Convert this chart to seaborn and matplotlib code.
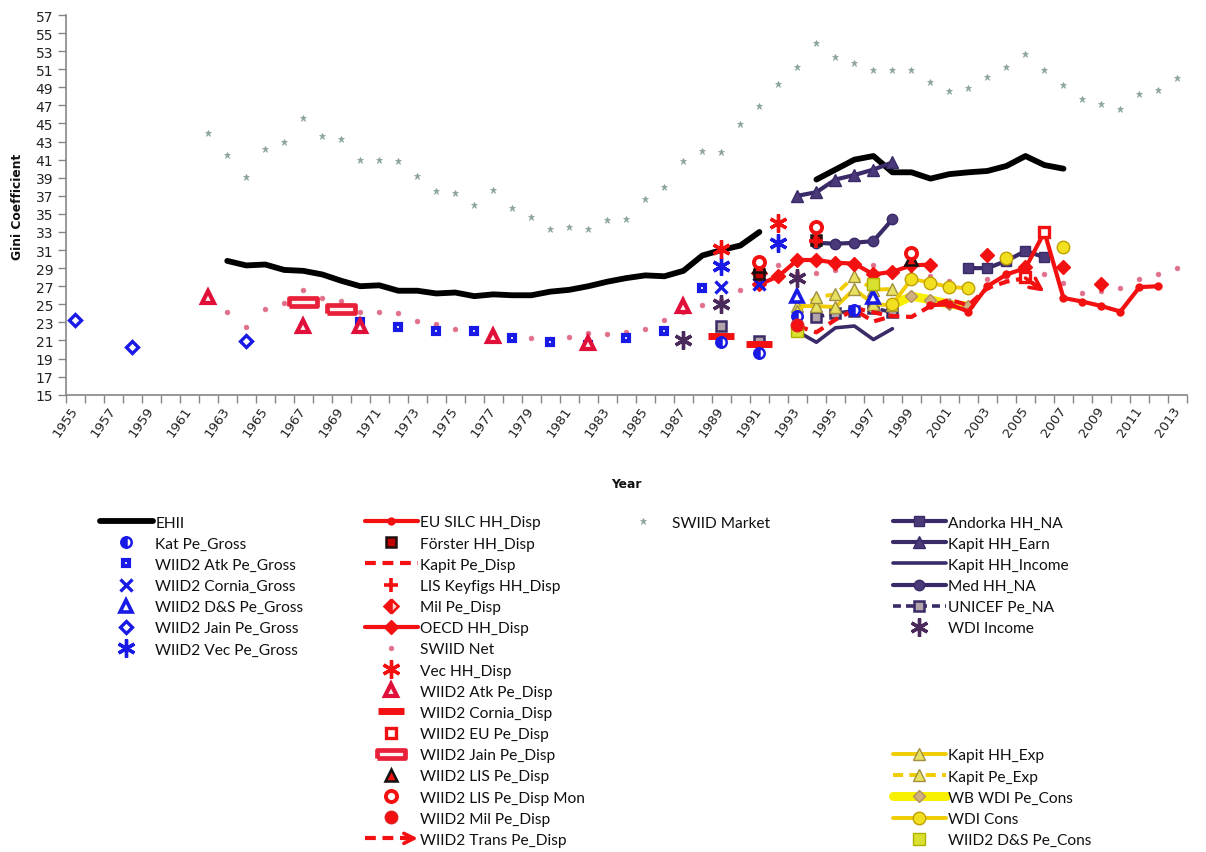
import numpy as np
import pandas as pd
import matplotlib
matplotlib.use("Agg")
import matplotlib.pyplot as plt
import seaborn as sns
from matplotlib.lines import Line2D
from matplotlib.patches import FancyArrowPatch
from matplotlib.legend_handler import HandlerBase

# ---------------- data ----------------
EHII_YEARS = list(range(1963, 1992)) + list(range(1994, 2008))
EHII_VALUES = [29.8, 29.3, 29.4, 28.8, 28.7, 28.3, 27.6, 27.0, 27.1, 26.5, 26.5, 26.2, 26.3, 25.9,
               26.1, 26.0, 26.0, 26.4, 26.6, 27.0, 27.5, 27.9, 28.2, 28.1, 28.7, 30.4, 31.0, 31.5, 33.0,
               38.8, 39.9, 41.0, 41.4, 39.6, 39.6, 38.9, 39.4, 39.6, 39.75, 40.3, 41.4, 40.4, 40.0]

KAT_PE_GROSS_YEARS = [1989, 1991, 1993, 1996]
KAT_PE_GROSS_VALUES = [20.8, 19.6, 23.7, 24.4]
WIID2_ATK_PE_GROSS_YEARS = [1970, 1972, 1974, 1976, 1978, 1980, 1982, 1984, 1986, 1988]
WIID2_ATK_PE_GROSS_VALUES = [23.0, 22.5, 22.1, 22.0, 21.3, 20.8, 20.5, 21.3, 22.1, 26.8]
WIID2_CORNIA_GROSS_YEARS = [1989, 1991]
WIID2_CORNIA_GROSS_VALUES = [26.9, 27.2]
WIID2_DS_PE_GROSS_YEARS = [1993, 1997]
WIID2_DS_PE_GROSS_VALUES = [25.9, 25.8]
WIID2_JAIN_PE_GROSS_YEARS = [1955, 1958, 1964]
WIID2_JAIN_PE_GROSS_VALUES = [23.3, 20.3, 20.9]
WIID2_VEC_PE_GROSS_YEARS = [1989, 1992]
WIID2_VEC_PE_GROSS_VALUES = [29.2, 31.8]

EU_SILC_YEARS = list(range(2000, 2013))
EU_SILC_VALUES = [24.9, 25.0, 24.2, 27.0, 28.3, 29.0, 33.0, 25.7, 25.3, 24.8, 24.2, 26.9, 27.0]
FORSTER_YEARS = [1991, 1994]
FORSTER_VALUES = [28.3, 32.1]
KAPIT_PE_DISP_YEARS = [1993, 1994, 1995, 1996, 1997, 1998]
KAPIT_PE_DISP_VALUES = [22.6, 21.9, 23.3, 24.4, 23.1, 23.7]
LIS_KEYFIGS_YEARS = [1994]
LIS_KEYFIGS_VALUES = [32.0]
MIL_PE_DISP_YEARS = [1991]
MIL_PE_DISP_VALUES = [28.5]
OECD_YEARS = [1991, 1992, 1993, 1994, 1995, 1996, 1997, 1998, 1999, 2000, 2003, 2005, 2007, 2009]
OECD_VALUES = [27.2, 28.1, 29.9, 29.9, 29.6, 29.5, 28.3, 28.6, 29.3, 29.4, 30.4, 29.1, 29.1, 27.2]
SWIID_NET_YEARS = list(range(1963, 2014))
SWIID_NET_VALUES = [24.2, 22.5, 24.5, 25.1, 26.6, 25.7, 25.4, 24.2, 24.2, 24.0, 23.1, 22.8, 22.3, 22.0,
                    21.9, 21.6, 21.3, 21.2, 21.4, 21.8, 21.7, 21.9, 22.3, 23.3, 24.2, 24.9, 25.5, 26.6,
                    27.5, 29.4, 28.5, 28.5, 28.8, 29.0, 29.4, 28.8, 28.4, 28.1, 27.6, 27.2, 27.8, 28.0,
                    28.5, 28.3, 27.4, 26.2, 26.5, 26.8, 27.8, 28.4, 29.0]
VEC_HH_DISP_YEARS = [1989, 1992]
VEC_HH_DISP_VALUES = [31.1, 34.0]
WIID2_ATK_PE_DISP_YEARS = [1962, 1967, 1970, 1977, 1982, 1987]
WIID2_ATK_PE_DISP_VALUES = [25.8, 22.6, 22.6, 21.5, 20.7, 24.8]
WIID2_CORNIA_DISP_YEARS = [1989, 1991]
WIID2_CORNIA_DISP_VALUES = [21.5, 20.6]
WIID2_EU_PE_DISP_YEARS = [2005, 2006]
WIID2_EU_PE_DISP_VALUES = [28.0, 33.0]
WIID2_JAIN_PE_DISP_YEARS = [1967, 1969]
WIID2_JAIN_PE_DISP_VALUES = [25.2, 24.5]
WIID2_LIS_PE_DISP_YEARS = [1991, 1999]
WIID2_LIS_PE_DISP_VALUES = [29.2, 30.0]
WIID2_LIS_MON_YEARS = [1991, 1994, 1999]
WIID2_LIS_MON_VALUES = [29.7, 33.5, 30.7]
WIID2_MIL_PE_DISP_YEARS = [1993]
WIID2_MIL_PE_DISP_VALUES = [22.7]
WIID2_TRANS_YEARS = list(range(1996, 2007))
WIID2_TRANS_VALUES = [24.6, 24.1, 23.7, 23.6, 24.8, 25.5, 24.9, 26.8, 27.5, 27.9, 26.4]

SWIID_MARKET_YEARS = list(range(1962, 2014))
SWIID_MARKET_VALUES = [43.9, 41.5, 39.1, 42.2, 43.0, 45.6, 43.6, 43.3, 41.0, 41.0, 40.9, 39.2, 37.5,
                       37.3, 36.0, 37.6, 35.6, 34.7, 33.3, 33.6, 33.3, 34.3, 34.4, 36.7, 38.0, 40.9,
                       42.0, 41.8, 44.9, 46.9, 49.4, 51.2, 53.9, 52.3, 51.7, 50.9, 50.9, 50.9, 49.6,
                       48.6, 48.9, 50.1, 51.2, 52.7, 50.9, 49.3, 47.7, 47.2, 46.6, 48.3, 48.7, 50.0]

ANDORKA_YEARS = [2002, 2003, 2004, 2005, 2006]
ANDORKA_VALUES = [29.0, 29.0, 29.8, 30.9, 30.2]
KAPIT_HH_EARN_YEARS = [1993, 1994, 1995, 1996, 1997, 1998]
KAPIT_HH_EARN_VALUES = [37.0, 37.4, 38.8, 39.3, 39.9, 40.7]
KAPIT_HH_INCOME_YEARS = [1993, 1994, 1995, 1996, 1997, 1998]
KAPIT_HH_INCOME_VALUES = [22.0, 20.8, 22.4, 22.6, 21.1, 22.3]
MED_HH_NA_YEARS = [1994, 1995, 1996, 1997, 1998]
MED_HH_NA_VALUES = [31.8, 31.7, 31.8, 32.0, 34.4]
UNICEF_YEARS = [1989, 1991, 1994, 1995, 1996, 1997, 1998]
UNICEF_VALUES = [22.6, 20.9, 23.6, 24.0, 24.3, 24.6, 24.1]
WDI_INCOME_YEARS = [1987, 1989, 1993]
WDI_INCOME_VALUES = [21.0, 25.0, 27.9]

KAPIT_HH_EXP_YEARS = [1993, 1994, 1995, 1996, 1997, 1998]
KAPIT_HH_EXP_VALUES = [24.8, 24.8, 24.7, 26.7, 25.0, 24.9]
KAPIT_PE_EXP_YEARS = [1993, 1994, 1995, 1996, 1997, 1998]
KAPIT_PE_EXP_VALUES = [24.3, 25.8, 26.1, 28.1, 26.6, 26.7]
WB_WDI_PE_CONS_YEARS = [1998, 1999, 2000, 2001, 2002]
WB_WDI_PE_CONS_VALUES = [24.9, 25.9, 25.5, 25.0, 24.8]
WDI_CONS_YEARS = [1998, 1999, 2000, 2001, 2002, 2004, 2007]
WDI_CONS_VALUES = [25.0, 27.8, 27.4, 26.9, 26.8, 30.1, 31.3]
WIID2_DS_PE_CONS_YEARS = [1993, 1997]
WIID2_DS_PE_CONS_VALUES = [22.1, 27.2]

YEAR_MIN, YEAR_MAX = 1955, 2013
Y_TICKS = list(range(15, 58, 2))

# ---------------- styles ----------------
BLUE = "#1a1ae6"
RED = "#f21010"
PURPLE = "#3a2a68"
GOLD = "#f0cc00"
GREY = "#868686"

def st(color="k", lw=0, ls="none", marker="None", ms=8, mfc=None, mec=None, mew=1.5,
       fill="full", alt="none"):
    return dict(color=color, linewidth=lw, linestyle=ls, marker=marker, markersize=ms,
                markerfacecolor=mfc if mfc is not None else color,
                markeredgecolor=mec if mec is not None else color,
                markeredgewidth=mew, fillstyle=fill, markerfacecoloralt=alt)

DASH_MARK = [(-1, -0.26), (1, -0.26), (1, 0.26), (-1, 0.26), (-1, -0.26)]

SERIES = {
    "EHII": (EHII_YEARS, EHII_VALUES, st("black", lw=4.2, ls="-")),
    "Kat Pe_Gross": (KAT_PE_GROSS_YEARS, KAT_PE_GROSS_VALUES,
                     st(BLUE, marker="o", ms=7.5, mfc=BLUE, mew=1.8, fill="left", alt="white")),
    "WIID2 Atk Pe_Gross": (WIID2_ATK_PE_GROSS_YEARS, WIID2_ATK_PE_GROSS_VALUES,
                           st(BLUE, marker="s", ms=4.6, mfc="white", mew=3.0)),
    "WIID2 Cornia_Gross": (WIID2_CORNIA_GROSS_YEARS, WIID2_CORNIA_GROSS_VALUES,
                           st(BLUE, marker="x", ms=9, mew=2.4)),
    "WIID2 D&S Pe_Gross": (WIID2_DS_PE_GROSS_YEARS, WIID2_DS_PE_GROSS_VALUES,
                           st(BLUE, marker="^", ms=8, mfc="white", mew=2.6)),
    "WIID2 Jain Pe_Gross": (WIID2_JAIN_PE_GROSS_YEARS, WIID2_JAIN_PE_GROSS_VALUES,
                            st(BLUE, marker="D", ms=6.5, mfc="white", mew=2.4)),
    "WIID2 Vec Pe_Gross": (WIID2_VEC_PE_GROSS_YEARS, WIID2_VEC_PE_GROSS_VALUES,
                           st(BLUE, marker=(6, 2, 0), ms=13, mew=2.4)),
    "EU SILC HH_Disp": (EU_SILC_YEARS, EU_SILC_VALUES,
                        st(RED, lw=3, ls="-", marker="o", ms=4.5)),
    "Förster HH_Disp": (FORSTER_YEARS, FORSTER_VALUES,
                        st("#c00000", marker="s", ms=7, mec="#201010", mew=1.8)),
    "Kapit Pe_Disp": (KAPIT_PE_DISP_YEARS, KAPIT_PE_DISP_VALUES,
                      st(RED, lw=3, ls=(0, (2.6, 1.6)))),
    "LIS Keyfigs HH_Disp": (LIS_KEYFIGS_YEARS, LIS_KEYFIGS_VALUES,
                            st(RED, marker="+", ms=10, mew=2.6)),
    "Mil Pe_Disp": (MIL_PE_DISP_YEARS, MIL_PE_DISP_VALUES,
                    st(RED, marker="D", ms=7, mfc=RED, mew=1.8, fill="left", alt="#ffd0d0")),
    "OECD HH_Disp": (OECD_YEARS, OECD_VALUES,
                     st(RED, lw=3, ls="-", marker="D", ms=7.5, mew=1)),
    "SWIID Net": (SWIID_NET_YEARS, SWIID_NET_VALUES,
                  st("#e0708a", marker="o", ms=3.4, mew=0.5)),
    "Vec HH_Disp": (VEC_HH_DISP_YEARS, VEC_HH_DISP_VALUES,
                    st(RED, marker=(6, 2, 0), ms=13, mew=2.4)),
    "WIID2 Atk Pe_Disp": (WIID2_ATK_PE_DISP_YEARS, WIID2_ATK_PE_DISP_VALUES,
                          st("#e0103a", marker="^", ms=8, mfc="#fff0f0", mew=3.0)),
    "WIID2 Cornia_Disp": (WIID2_CORNIA_DISP_YEARS, WIID2_CORNIA_DISP_VALUES,
                          st(RED, marker="_", ms=19, mew=5)),
    "WIID2 EU Pe_Disp": (WIID2_EU_PE_DISP_YEARS, WIID2_EU_PE_DISP_VALUES,
                         st(RED, marker="s", ms=7, mfc="white", mew=2.4)),
    "WIID2 Jain Pe_Disp": (WIID2_JAIN_PE_DISP_YEARS, WIID2_JAIN_PE_DISP_VALUES,
                           st("#e8203a", marker=DASH_MARK, ms=20, mfc="#fff4f4", mew=3.4)),
    "WIID2 LIS Pe_Disp": (WIID2_LIS_PE_DISP_YEARS, WIID2_LIS_PE_DISP_VALUES,
                          st(RED, marker="^", ms=8.5, mec="#101010", mew=1.8)),
    "WIID2 LIS Pe_Disp Mon": (WIID2_LIS_MON_YEARS, WIID2_LIS_MON_VALUES,
                              st(RED, marker="o", ms=8, mfc="white", mew=2.8)),
    "WIID2 Mil Pe_Disp": (WIID2_MIL_PE_DISP_YEARS, WIID2_MIL_PE_DISP_VALUES,
                          st(RED, marker="o", ms=9, mec="#e02020", mew=1)),
    "WIID2 Trans Pe_Disp": (WIID2_TRANS_YEARS, WIID2_TRANS_VALUES,
                            st(RED, lw=3, ls=(0, (2.6, 1.6)))),
    "SWIID Market": (SWIID_MARKET_YEARS, SWIID_MARKET_VALUES,
                     st("#8aa398", marker="*", ms=4.8, mew=0.5)),
    "Andorka HH_NA": (ANDORKA_YEARS, ANDORKA_VALUES,
                      st(PURPLE, lw=3, ls="-", marker="s", ms=7.5, mfc="#4a3a7a", mew=1)),
    "Kapit HH_Earn": (KAPIT_HH_EARN_YEARS, KAPIT_HH_EARN_VALUES,
                      st(PURPLE, lw=3, ls="-", marker="^", ms=8.5, mfc="#4a3a7a", mew=1)),
    "Kapit HH_Income": (KAPIT_HH_INCOME_YEARS, KAPIT_HH_INCOME_VALUES,
                        st(PURPLE, lw=2.6, ls="-")),
    "Med HH_NA": (MED_HH_NA_YEARS, MED_HH_NA_VALUES,
                  st(PURPLE, lw=3, ls="-", marker="o", ms=7.5, mfc="#4a3a7a", mew=1)),
    "UNICEF Pe_NA": (UNICEF_YEARS, UNICEF_VALUES,
                     st(PURPLE, lw=2.6, ls=(0, (2.2, 1.4)), marker="s", ms=7, mfc="#b0a4a8",
                        mew=1.8)),
    "WDI Income": (WDI_INCOME_YEARS, WDI_INCOME_VALUES,
                   st("#4a2a5a", marker=(6, 2, 0), ms=13, mew=2.4)),
    "Kapit HH_Exp": (KAPIT_HH_EXP_YEARS, KAPIT_HH_EXP_VALUES,
                     st(GOLD, lw=2.8, ls="-", marker="^", ms=8, mfc="#e8e060", mec="#a09040", mew=1)),
    "Kapit Pe_Exp": (KAPIT_PE_EXP_YEARS, KAPIT_PE_EXP_VALUES,
                     st(GOLD, lw=2.8, ls=(0, (2.6, 1.6)), marker="^", ms=8, mfc="#e8e060",
                        mec="#a09040", mew=1)),
    "WB WDI Pe_Cons": (WB_WDI_PE_CONS_YEARS, WB_WDI_PE_CONS_VALUES,
                       st("#f8f000", lw=6.5, ls="-", marker="D", ms=6.5, mfc="#d0b080",
                          mec="#b09060", mew=1)),
    "WDI Cons": (WDI_CONS_YEARS, WDI_CONS_VALUES,
                 st(GOLD, lw=2.8, ls="-", marker="o", ms=9, mfc="#f2e020", mec="#c0a000", mew=1)),
    "WIID2 D&S Pe_Cons": (WIID2_DS_PE_CONS_YEARS, WIID2_DS_PE_CONS_VALUES,
                          st("#d8e030", marker="s", ms=8.5, mec="#b0b000", mew=1)),
}

DRAW_ORDER = ["SWIID Market", "SWIID Net", "EHII",
              "Kapit HH_Income", "Kapit HH_Earn", "Med HH_NA", "Andorka HH_NA", "UNICEF Pe_NA",
              "WB WDI Pe_Cons", "Kapit HH_Exp", "Kapit Pe_Exp", "WDI Cons",
              "EU SILC HH_Disp", "OECD HH_Disp", "Kapit Pe_Disp", "WIID2 Trans Pe_Disp",
              "WIID2 Jain Pe_Gross", "WIID2 Atk Pe_Gross", "WIID2 Jain Pe_Disp",
              "WIID2 Cornia_Disp", "Kat Pe_Gross", "WIID2 Cornia_Gross", "WIID2 D&S Pe_Gross",
              "WIID2 Vec Pe_Gross", "Vec HH_Disp", "WIID2 Atk Pe_Disp", "WDI Income",
              "WIID2 D&S Pe_Cons", "WIID2 Mil Pe_Disp", "Mil Pe_Disp", "Förster HH_Disp",
              "WIID2 LIS Pe_Disp", "WIID2 LIS Pe_Disp Mon", "LIS Keyfigs HH_Disp",
              "WIID2 EU Pe_Disp"]

LEGEND_COLS = [
    ["EHII", "Kat Pe_Gross", "WIID2 Atk Pe_Gross", "WIID2 Cornia_Gross", "WIID2 D&S Pe_Gross",
     "WIID2 Jain Pe_Gross", "WIID2 Vec Pe_Gross"],
    ["EU SILC HH_Disp", "Förster HH_Disp", "Kapit Pe_Disp", "LIS Keyfigs HH_Disp", "Mil Pe_Disp",
     "OECD HH_Disp", "SWIID Net", "Vec HH_Disp", "WIID2 Atk Pe_Disp", "WIID2 Cornia_Disp",
     "WIID2 EU Pe_Disp", "WIID2 Jain Pe_Disp", "WIID2 LIS Pe_Disp", "WIID2 LIS Pe_Disp Mon",
     "WIID2 Mil Pe_Disp", "WIID2 Trans Pe_Disp"],
    ["SWIID Market"],
    ["Andorka HH_NA", "Kapit HH_Earn", "Kapit HH_Income", "Med HH_NA", "UNICEF Pe_NA", "WDI Income"],
    ["Kapit HH_Exp", "Kapit Pe_Exp", "WB WDI Pe_Cons", "WDI Cons", "WIID2 D&S Pe_Cons"],
]
# (left x px, top y px) of each legend block
LEGEND_POS = [(100, 516.5), (365, 516.5), (617, 516.5), (893, 516.5), (893, 749.5)]

# ---------------- figure ----------------
sns.set_theme(style="white")
plt.rcParams["font.family"] = ["DejaVu Sans"]

W, H = 1206, 853
fig = plt.figure(figsize=(W / 100, H / 100), dpi=100)
ax_left, ax_right, ax_top, ax_bottom = 65.7, 1187.0, 16.0, 395.7
ax = fig.add_axes([ax_left / W, 1 - ax_bottom / H, (ax_right - ax_left) / W, (ax_bottom - ax_top) / H])


def runs(years, values):
    segs, cur = [], []
    for y, v in zip(years, values):
        if cur and y != cur[-1][0] + 1:
            segs.append(cur)
            cur = []
        cur.append((y, v))
    if cur:
        segs.append(cur)
    return segs


for name in DRAW_ORDER:
    years, values, style = SERIES[name]
    if style["linestyle"] == "none":
        chunks = [list(zip(years, values))]
    else:
        chunks = runs(years, values)
    for chunk in chunks:
        df = pd.DataFrame(chunk, columns=["year", "gini"])
        sns.lineplot(data=df, x="year", y="gini", ax=ax, legend=False, estimator=None,
                     sort=False, **style)
    if name == "WIID2 Trans Pe_Disp":
        ax.annotate("", xy=(years[-1], values[-1]), xytext=(years[-2], values[-2]),
                    arrowprops=dict(arrowstyle="->", color=RED, lw=2.6, mutation_scale=20,
                                    shrinkA=0, shrinkB=0))

ax.set_xlim(YEAR_MIN - 0.5, YEAR_MAX + 0.5)
ax.set_ylim(Y_TICKS[0], Y_TICKS[-1])
ax.set_yticks(Y_TICKS)
ax.set_xticks(np.arange(YEAR_MIN - 0.5, YEAR_MAX + 1.0, 1.0), minor=True)
label_years = list(range(YEAR_MIN, YEAR_MAX + 1, 2))
ax.set_xticks(label_years)
ax.set_xticklabels([str(y) for y in label_years], rotation=55, ha="right", va="center",
                   rotation_mode="anchor", fontsize=9.5, color="#222222")
ax.tick_params(axis="x", which="major", length=0, pad=9)
ax.tick_params(axis="x", which="minor", length=6, width=1, color=GREY, direction="out", bottom=True)
ax.tick_params(axis="y", which="major", length=6, width=1, color=GREY, direction="out", left=True,
               labelsize=10, labelcolor="#222222", pad=3)
ax.set_xlabel("")
ax.set_ylabel("")
for side in ["top", "right"]:
    ax.spines[side].set_visible(False)
for side in ["left", "bottom"]:
    ax.spines[side].set_color(GREY)
    ax.spines[side].set_linewidth(1.2)
ax.grid(False)

fig.text(18 / W, 1 - 207 / H, "Gini Coefficient", rotation=90, ha="center", va="center",
         fontsize=8.8, fontweight="bold", color="#111111")
fig.text(626 / W, 1 - 485 / H, "Year", ha="center", va="center", fontsize=8.8,
         fontweight="bold", color="#111111")


# ---------------- legend ----------------
class HandlerArrowLine(HandlerBase):
    def create_artists(self, legend, orig_handle, xdescent, ydescent, width, height, fontsize,
                       trans):
        y = (height - ydescent) / 2.0
        x0, x1 = -xdescent, width - xdescent
        line = Line2D([x0, x1 - 3], [y, y], color=RED, linewidth=3, linestyle=(0, (2.6, 1.6)))
        line.set_transform(trans)
        arr = FancyArrowPatch((x1 - 12, y), (x1 + 2, y), arrowstyle="->", mutation_scale=18,
                              color=RED, linewidth=2.6, transform=trans)
        return [line, arr]


handler_map = {}
for col, (px, py) in zip(LEGEND_COLS, LEGEND_POS):
    handles = []
    for name in col:
        style = SERIES[name][2]
        h = Line2D([], [], **style)
        if name == "WIID2 Trans Pe_Disp":
            handler_map[h] = HandlerArrowLine()
        handles.append(h)
    leg = fig.legend(handles, col, loc="upper left", bbox_to_anchor=(px / W, 1 - py / H),
                     frameon=False, borderpad=0, borderaxespad=0, handlelength=3.4,
                     handletextpad=0.15, labelspacing=0.46, numpoints=1,
                     prop={"family": ["Lato", "DejaVu Sans"], "size": 11.2},
                     handler_map=handler_map)
    for t in leg.get_texts():
        t.set_color("#111111")

fig.savefig("out.png", dpi=100)
